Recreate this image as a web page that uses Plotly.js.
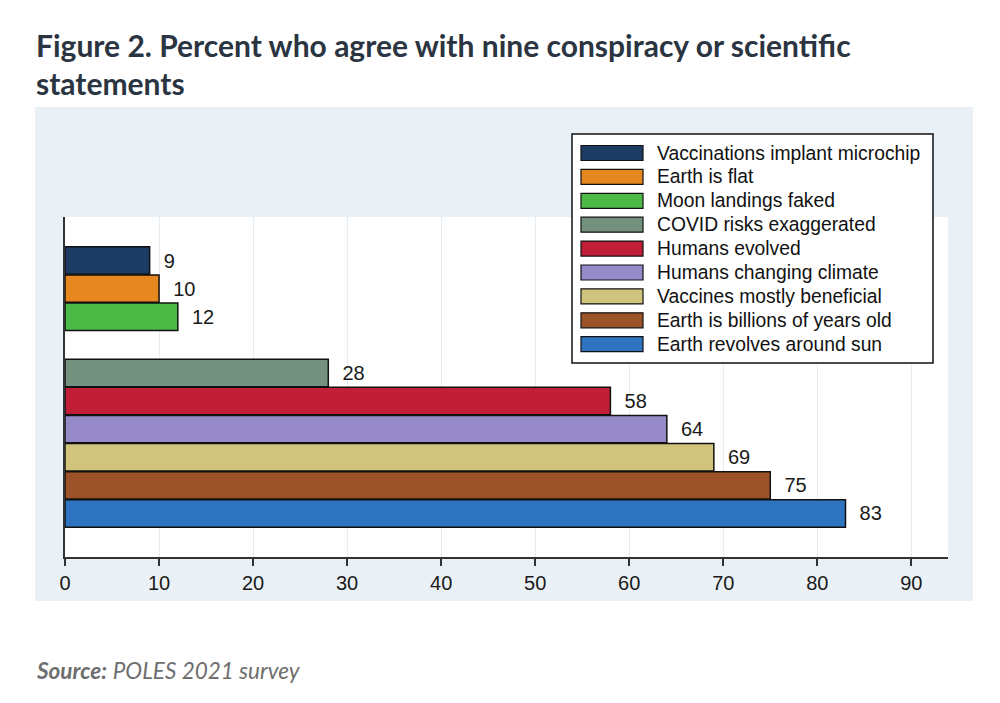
<!DOCTYPE html>
<html>
<head>
<meta charset="utf-8">
<script src="https://cdn.plot.ly/plotly-3.0.1.min.js"></script>
<style>
  html, body { margin: 0; padding: 0; background: #fff; }
  #chart { width: 1000px; height: 703px; }
</style>
</head>
<body>
<div id="chart"></div>
<script>
// data
const statements = [
  'Vaccinations implant microchip',
  'Earth is flat',
  'Moon landings faked',
  'COVID risks exaggerated',
  'Humans evolved',
  'Humans changing climate',
  'Vaccines mostly beneficial',
  'Earth is billions of years old',
  'Earth revolves around sun',
];
const agreePct = [9, 10, 12, 28, 58, 64, 69, 75, 83];
const barColors = [
  '#1d3c63',
  '#e6871f',
  '#4dba48',
  '#74907f',
  '#c11f38',
  '#968bc8',
  '#d0c47c',
  '#9d5329',
  '#2e74c0',
];
const xTicks = [0, 10, 20, 30, 40, 50, 60, 70, 80, 90];

// conspiracy group, blank slot, scientific group
const SPACER = 'spacer';
const yOrder = statements.slice(0, 3).concat([SPACER], statements.slice(3));

const SANS = '"Liberation Sans", Arial, sans-serif';
const HEAD = 'Lato, "Open Sans", sans-serif';

// plot area in pixels, used to place paper-referenced decoration
const L = 65, R = 948, T = 217, B = 557;
const px = (x) => (x - L) / (R - L);
const py = (y) => (B - y) / (B - T);

const trace = {
  type: 'bar',
  orientation: 'h',
  x: agreePct,
  y: statements,
  width: 0.975,
  marker: {
    color: barColors,
    line: { color: '#111', width: 1.5 },
  },
  text: agreePct.map((v) => '  ' + v),
  textposition: 'outside',
  textfont: { family: SANS, size: 20, color: '#1a1a1a' },
  cliponaxis: false,
  hoverinfo: 'x+y',
};

const shapes = [
  // light panel behind the chart
  {
    type: 'rect', xref: 'paper', yref: 'paper', layer: 'below',
    x0: px(35), x1: px(973), y0: py(601), y1: py(107),
    fillcolor: '#eaf1f6', line: { width: 0 },
  },
  // white plot area
  {
    type: 'rect', xref: 'paper', yref: 'paper', layer: 'below',
    x0: 0, x1: 1, y0: 0, y1: 1,
    fillcolor: '#ffffff', line: { width: 0 },
  },
  // legend box
  {
    type: 'rect', xref: 'paper', yref: 'paper', layer: 'above',
    x0: px(572), x1: px(933), y0: py(363), y1: py(134),
    fillcolor: '#ffffff', line: { color: '#111', width: 1.5 },
  },
];

const annotations = [
  {
    xref: 'paper', yref: 'paper', x: px(34), y: py(65),
    xanchor: 'left', yanchor: 'bottom', showarrow: false,
    text: '<b>Figure 2. Percent who agree with nine conspiracy or scientific</b>',
    font: { family: HEAD, size: 30, color: '#2b3541' },
  },
  {
    xref: 'paper', yref: 'paper', x: px(34), y: py(103),
    xanchor: 'left', yanchor: 'bottom', showarrow: false,
    text: '<b>statements</b>',
    font: { family: HEAD, size: 30, color: '#2b3541' },
  },
  {
    xref: 'paper', yref: 'paper', x: px(34), y: py(686),
    xanchor: 'left', yanchor: 'bottom', showarrow: false,
    text: '<b><i>Source:</i></b> <i>POLES 2021 survey</i>',
    font: { family: HEAD, size: 22.5, color: '#6e6e6e' },
  },
];

// legend built from the same arrays
statements.forEach((name, i) => {
  const cy = 153 + i * 23.9;
  shapes.push({
    type: 'rect', xref: 'paper', yref: 'paper', layer: 'above',
    x0: px(581), x1: px(643), y0: py(cy + 7.5), y1: py(cy - 7.5),
    fillcolor: barColors[i], line: { color: '#111', width: 1.2 },
  });
  annotations.push({
    xref: 'paper', yref: 'paper', x: px(655), y: py(cy),
    xanchor: 'left', yanchor: 'middle', showarrow: false,
    text: name,
    font: { family: SANS, size: 19.3, color: '#111' },
  });
});

const layout = {
  width: 1000,
  height: 703,
  margin: { l: L, r: 1000 - R, t: T, b: 703 - B, pad: 0 },
  paper_bgcolor: '#ffffff',
  plot_bgcolor: 'rgba(0,0,0,0)',
  showlegend: false,
  bargap: 0,
  xaxis: {
    range: [0, 93.9],
    tickvals: xTicks,
    ticks: 'outside',
    ticklen: 7,
    tickwidth: 2,
    tickcolor: '#333',
    showline: true,
    linecolor: '#333',
    linewidth: 2,
    showgrid: true,
    gridcolor: '#e3edf4',
    gridwidth: 1,
    zeroline: false,
    tickfont: { family: SANS, size: 20, color: '#1a1a1a' },
  },
  yaxis: {
    type: 'category',
    categoryorder: 'array',
    categoryarray: yOrder,
    range: [yOrder.length - 1 + 1.55, -1.55],
    showticklabels: false,
    ticks: '',
    showgrid: false,
    zeroline: false,
    showline: true,
    linecolor: '#333',
    linewidth: 2,
  },
  shapes: shapes,
  annotations: annotations,
};

Plotly.newPlot('chart', [trace], layout, { displayModeBar: false, staticPlot: true });
</script>
</body>
</html>
